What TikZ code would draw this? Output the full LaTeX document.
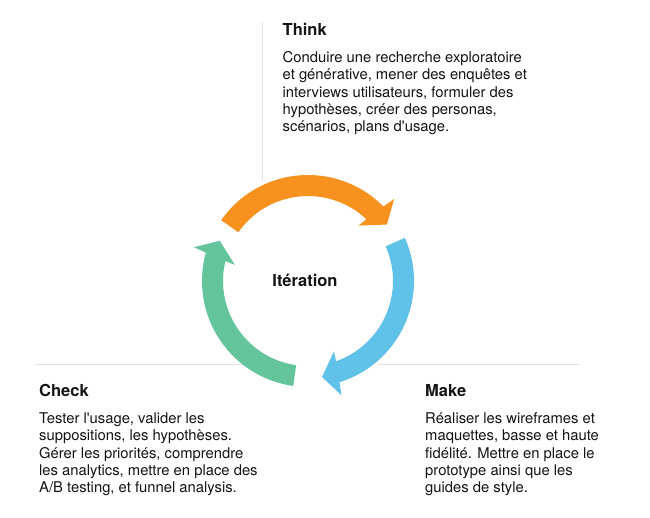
\documentclass[tikz,border=0pt]{standalone}
\usepackage{fontspec}
\setmainfont{TeX Gyre Heros}
\definecolor{orangeA}{RGB}{247,146,30}
\definecolor{blueA}{RGB}{96,193,233}
\definecolor{greenA}{RGB}{100,197,156}
\definecolor{lineA}{RGB}{226,226,226}
\definecolor{textA}{RGB}{20,20,20}
\newcommand{\cycarrow}[3]{%
  \fill[#1] (#2:106pt) arc[start angle=#2, end angle=#3+9, radius=106pt]
    -- (#3+8:119pt) -- (#3:97pt) -- (#3+12:75pt) -- (#3+11:85pt)
    arc[start angle=#3+11, end angle=#2, radius=85pt] -- cycle;}
\begin{document}
\begin{tikzpicture}[x=1pt,y=1pt,
  titletext/.style={anchor=base west, inner sep=0pt, text=textA, font=\fontsize{16.5}{19}\selectfont\bfseries},
  bodytext/.style={anchor=base west, inner sep=0pt, text=textA, font=\fontsize{14.8}{17.4}\selectfont},
  sepline/.style={draw=lineA, line width=0.8pt}]
\useasboundingbox[fill=white] (0,0) rectangle (650,-518);

% separator lines
\coordinate (v1) at (262,-22);
\coordinate (v2) at (262,-180);
\coordinate (h1) at (36,-364);
\coordinate (h2) at (250,-364);
\coordinate (h3) at (378,-364);
\coordinate (h4) at (579,-364);
\draw[sepline] (v1) -- (v2);
\draw[sepline] (h1) -- (h2);
\draw[sepline] (h3) -- (h4);

% cycle arrows
\begin{scope}[shift={(308,-281)}]
  \cycarrow{orangeA}{145}{35.6}
  \cycarrow{blueA}{24}{-81.7}
  \cycarrow{greenA}{262}{155.5}
\end{scope}

\node[titletext, anchor=base] (iter) at (305,-286.5) {Itération};

% Think
\node[titletext] (think) at (282.5,-35.5) {Think};
\node[bodytext] (thinkbody) at (282.5,-62.3) {\parbox[t]{340pt}{\raggedright
Conduire une recherche exploratoire\\
et générative, mener des enquêtes et\\
interviews utilisateurs, formuler des\\
hypothèses, créer des personas,\\
scénarios, plans d\textquotesingle usage.}};

% Check
\node[titletext] (check) at (39,-396.7) {Check};
\node[bodytext] (checkbody) at (39,-423.3) {\parbox[t]{300pt}{\raggedright
Tester l\textquotesingle usage, valider les\\
suppositions, les hypothèses.\\
Gérer les priorités, comprendre\\
les analytics, mettre en place des\\
A/B testing, et funnel analysis.}};

% Make
\node[titletext] (make) at (425,-396.7) {Make};
\node[bodytext] (makebody) at (425,-423.3) {\parbox[t]{220pt}{\raggedright
Réaliser les wireframes et\\
maquettes, basse et haute\\
fidélité. Mettre en place le\\
prototype ainsi que les\\
guides de style.}};
\end{tikzpicture}
\end{document}
